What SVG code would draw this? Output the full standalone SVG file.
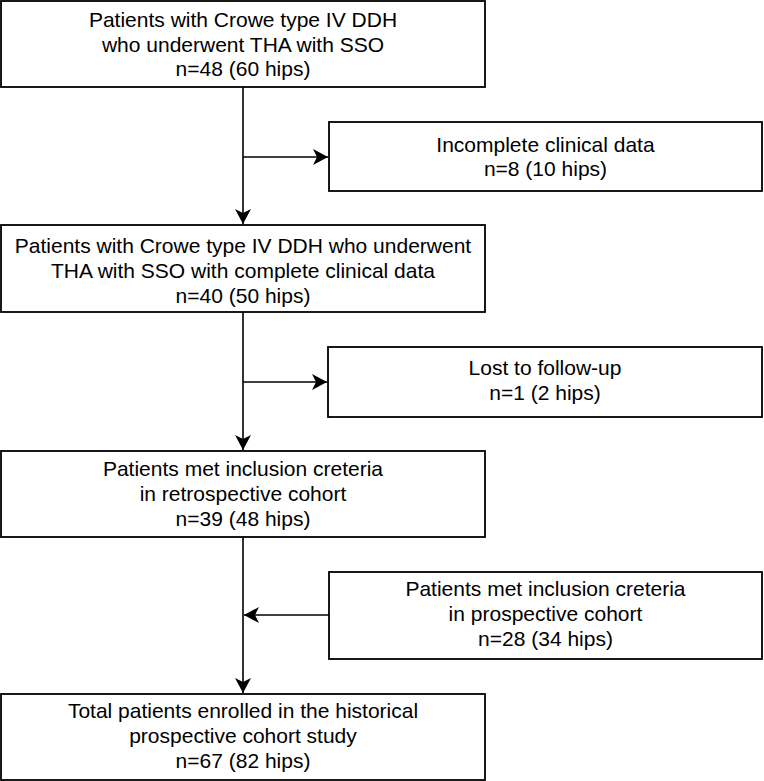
<svg xmlns="http://www.w3.org/2000/svg" width="764" height="781" viewBox="0 0 764 781">
<style>
.box{fill:#fff;stroke:#000;stroke-width:1.8}
.t{font-family:"Liberation Sans",Arial,sans-serif;font-size:21px;fill:#000;text-anchor:middle}
.c{fill:none;stroke:#000;stroke-width:1.6}
</style>
<defs>
<marker id="ah" markerUnits="userSpaceOnUse" markerWidth="17" markerHeight="17" viewBox="-16 -8.5 17 17" refX="0" refY="0" orient="auto">
<path d="M0,0 L-15,-8 L-11,0 L-15,8 Z" fill="#000"/>
</marker>
</defs>
<rect width="764" height="781" fill="#fff"/>
<g id="connectors">
<path class="c" d="M243,87 V224" marker-end="url(#ah)"/>
<path class="c" d="M243,157 H328" marker-end="url(#ah)"/>
<path class="c" d="M243,312 V450" marker-end="url(#ah)"/>
<path class="c" d="M243,382 H327" marker-end="url(#ah)"/>
<path class="c" d="M243,537 V693" marker-end="url(#ah)"/>
<path class="c" d="M329,615 H244" marker-end="url(#ah)"/>
</g>
<g id="n1">
<rect class="box" x="1" y="1" width="484" height="86"/>
<text class="t" x="243" y="27">Patients with Crowe type IV DDH</text>
<text class="t" x="243" y="51.5">who underwent THA with SSO</text>
<text class="t" x="243" y="76">n=48 (60 hips)</text>
</g>
<g id="n2">
<rect class="box" x="329" y="122" width="433" height="69"/>
<text class="t" x="545.5" y="151.5">Incomplete clinical data</text>
<text class="t" x="545.5" y="176">n=8 (10 hips)</text>
</g>
<g id="n3">
<rect class="box" x="1" y="225" width="484" height="87"/>
<text class="t" x="243" y="252.5">Patients with Crowe type IV DDH who underwent</text>
<text class="t" x="243" y="277.5">THA with SSO with complete clinical data</text>
<text class="t" x="243" y="302.5">n=40 (50 hips)</text>
</g>
<g id="n4">
<rect class="box" x="328" y="347" width="434" height="70"/>
<text class="t" x="545" y="375">Lost to follow-up</text>
<text class="t" x="545" y="400">n=1 (2 hips)</text>
</g>
<g id="n5">
<rect class="box" x="1" y="451" width="484" height="86"/>
<text class="t" x="243" y="476">Patients met inclusion creteria</text>
<text class="t" x="243" y="501">in retrospective cohort</text>
<text class="t" x="243" y="526">n=39 (48 hips)</text>
</g>
<g id="n6">
<rect class="box" x="329" y="572" width="433" height="87"/>
<text class="t" x="545.5" y="596">Patients met inclusion creteria</text>
<text class="t" x="545.5" y="621">in prospective cohort</text>
<text class="t" x="545.5" y="646">n=28 (34 hips)</text>
</g>
<g id="n7">
<rect class="box" x="1" y="694" width="484" height="86"/>
<text class="t" x="243" y="718">Total patients enrolled in the historical</text>
<text class="t" x="243" y="743">prospective cohort study</text>
<text class="t" x="243" y="768">n=67 (82 hips)</text>
</g>
</svg>
